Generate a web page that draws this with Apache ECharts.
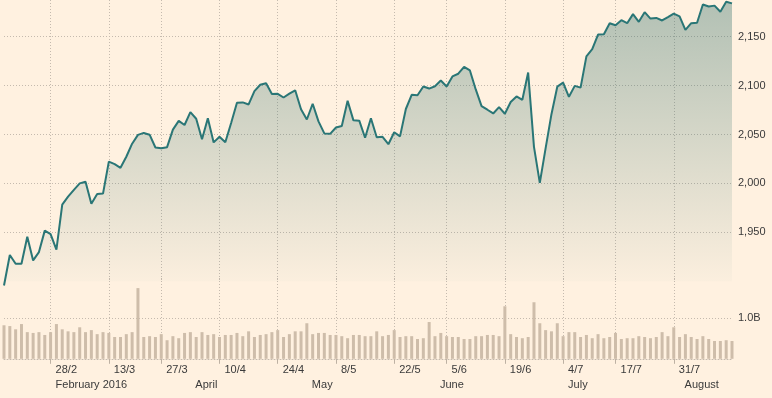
<!DOCTYPE html>
<html><head><meta charset="utf-8">
<script src="https://cdn.jsdelivr.net/npm/echarts@6/dist/echarts.min.js"></script>
<style>html,body{margin:0;padding:0;background:#fff1e0}#c{width:772px;height:398px}</style>
</head><body><div id="c"></div>
<script>
const dates = [
'16/2','17/2','18/2','19/2','22/2','23/2','24/2','25/2','26/2','29/2',
'1/3','2/3','3/3','4/3','7/3','8/3','9/3','10/3','11/3','14/3','15/3','16/3','17/3','18/3','21/3','22/3','23/3','24/3','28/3','29/3','30/3','31/3',
'1/4','4/4','5/4','6/4','7/4','8/4','11/4','12/4','13/4','14/4','15/4','18/4','19/4','20/4','21/4','22/4','25/4','26/4','27/4','28/4','29/4',
'2/5','3/5','4/5','5/5','6/5','9/5','10/5','11/5','12/5','13/5','16/5','17/5','18/5','19/5','20/5','23/5','24/5','25/5','26/5','27/5','31/5',
'1/6','2/6','3/6','6/6','7/6','8/6','9/6','10/6','13/6','14/6','15/6','16/6','17/6','20/6','21/6','22/6','23/6','24/6','27/6','28/6','29/6','30/6',
'1/7','5/7','6/7','7/7','8/7','11/7','12/7','13/7','14/7','15/7','18/7','19/7','20/7','21/7','22/7','25/7','26/7','27/7','28/7','29/7',
'1/8','2/8','3/8','4/8','5/8','8/8','9/8','10/8','11/8','12/8'];
const closes = [
1895.58,1926.82,1917.83,1917.78,1945.50,1921.27,1929.80,1951.70,1948.05,1932.23,
1978.35,1986.45,1993.40,1999.99,2001.76,1979.26,1989.26,1989.57,2022.19,2019.64,2015.93,2027.22,2040.59,2049.58,2051.60,2049.80,2036.71,2035.94,2037.05,2055.01,2063.95,2059.74,
2072.78,2066.13,2045.17,2066.66,2041.91,2047.60,2041.99,2061.72,2082.42,2082.78,2080.73,2094.34,2100.80,2102.40,2091.48,2091.58,2087.79,2091.70,2095.15,2075.81,2065.30,
2081.43,2063.37,2051.12,2050.63,2057.14,2058.69,2084.39,2064.46,2064.11,2046.61,2066.66,2047.21,2047.63,2040.04,2052.32,2048.04,2076.06,2090.54,2090.10,2099.06,2096.95,
2099.33,2105.26,2099.13,2109.41,2112.13,2119.12,2115.48,2096.07,2079.06,2075.32,2071.50,2077.99,2071.22,2083.25,2088.90,2085.45,2113.32,2037.41,2000.54,2036.09,2070.77,2098.86,
2102.95,2088.55,2099.73,2097.90,2129.90,2137.16,2152.14,2152.43,2163.75,2161.74,2166.89,2163.78,2173.02,2165.17,2175.03,2168.48,2169.18,2166.58,2170.06,2173.60,
2170.84,2157.03,2163.79,2164.25,2182.87,2180.89,2181.74,2175.49,2185.79,2184.05];
const volumes = [
0.83,0.81,0.73,0.86,0.66,0.64,0.66,0.59,0.66,0.86,0.73,0.68,0.66,0.78,0.66,0.71,0.61,0.66,0.64,0.54,0.54,0.61,0.66,1.75,0.54,0.56,0.54,0.61,0.46,0.56,0.51,0.64,0.66,
0.54,0.66,0.59,0.61,0.54,0.59,0.59,0.64,0.56,0.68,0.54,0.59,0.61,0.66,0.71,0.54,0.61,0.68,0.68,0.88,0.61,0.64,0.64,0.59,0.59,0.56,0.51,0.59,0.59,0.56,0.56,
0.68,0.56,0.59,0.71,0.54,0.56,0.56,0.49,0.51,0.91,0.56,0.64,0.56,0.54,0.54,0.49,0.49,0.56,0.56,0.59,0.59,0.56,1.30,0.61,0.54,0.51,0.54,1.40,0.88,0.71,0.68,0.88,
0.56,0.66,0.66,0.54,0.59,0.51,0.61,0.51,0.54,0.64,0.49,0.51,0.51,0.56,0.54,0.51,0.54,0.66,0.56,0.78,0.54,0.61,0.54,0.49,0.56,0.49,0.44,0.44,0.46,0.44];
const tickIdx = [8,18,27,37,47,57,67,76,86,96,105,115];
const tickLabels = ['28/2','13/3','27/3','10/4','24/4','8/5','22/5','5/6','19/6','4/7','17/7','31/7'];
const monthIdx = [8,32,52,74,96,116];
const monthLabels = ['February 2016','April','May','June','July','August'];

const gridColor = '#c5baae';
const textStyle = {color:'#3a3a3a', fontSize:11, fontFamily:'Arial, "Liberation Sans", sans-serif'};
const isTick = i => tickIdx.indexOf(i) >= 0;
const isMonth = i => monthIdx.indexOf(i) >= 0;
const dotted = {color: gridColor, width: 1, type: [1, 2]};

const chart = echarts.init(document.getElementById('c'), null, {renderer:'canvas'});
chart.setOption({
  backgroundColor: '#fff1e0',
  animation: false,
  grid: [
    {left: 4, right: 40, top: 0, height: 281.2},
    {left: 4, right: 40, top: 278, height: 80.8}
  ],
  xAxis: [
    {type:'category', gridIndex:0, data:dates, boundaryGap:false,
     axisLine:{show:false}, axisTick:{show:false}, axisLabel:{show:false},
     splitLine:{show:true, interval:(i)=>isTick(i), lineStyle:dotted}},
    {type:'category', gridIndex:1, data:dates, boundaryGap:false, position:'bottom',
     axisLine:{show:true, lineStyle:{color:gridColor, width:1, type:[1,2]}},
     axisTick:{show:true, interval:(i)=>isTick(i), length:5, lineStyle:{color:'#bdb1a3'}},
     axisLabel:Object.assign({show:true, interval:(i)=>isTick(i), align:'left', padding:[0,0,0,5], margin:6,
       formatter:(v,i)=>tickLabels[tickIdx.indexOf(i)] || ''}, textStyle),
     splitLine:{show:true, interval:(i)=>isTick(i), lineStyle:dotted}},
    {type:'category', gridIndex:1, data:dates, boundaryGap:false, position:'bottom', offset:15,
     axisLine:{show:false}, axisTick:{show:false},
     axisLabel:Object.assign({show:true, interval:(i)=>isMonth(i), align:'left', padding:[0,0,0,5], margin:6,
       formatter:(v,i)=>monthLabels[monthIdx.indexOf(i)] || ''}, textStyle),
     splitLine:{show:false}}
  ],
  yAxis: [
    {type:'value', gridIndex:0, position:'right', min:1900, max:2187.5, interval:50,
     axisLine:{show:false}, axisTick:{show:false},
     axisLabel:Object.assign({margin:6, showMinLabel:false, showMaxLabel:false,
       formatter:v=>(v % 50 === 0 ? v.toLocaleString('en-US') : '')}, textStyle),
     splitLine:{show:true, showMinLine:false, showMaxLine:false, lineStyle:dotted}},
    {type:'value', gridIndex:1, position:'right', min:0, max:2, interval:1,
     axisLine:{show:false}, axisTick:{show:false},
     axisLabel:Object.assign({margin:6, showMinLabel:false, showMaxLabel:false,
       formatter:v=>v.toFixed(1)+'B'}, textStyle),
     splitLine:{show:true, showMinLine:false, showMaxLine:false, lineStyle:dotted}}
  ],
  series: [
    {type:'line', xAxisIndex:0, yAxisIndex:0, data:closes, symbol:'none', clip:false,
     lineStyle:{color:'#2a7676', width:2},
     areaStyle:{color:new echarts.graphic.LinearGradient(0,0,0,1,[
       {offset:0, color:'rgba(44,108,104,0.52)'},
       {offset:1, color:'rgba(44,108,104,0.02)'}])}},
    {type:'bar', xAxisIndex:1, yAxisIndex:1, data:volumes, barWidth:3, clip:false,
     itemStyle:{color:'#cebdaa'}}
  ]
});
</script></body></html>
